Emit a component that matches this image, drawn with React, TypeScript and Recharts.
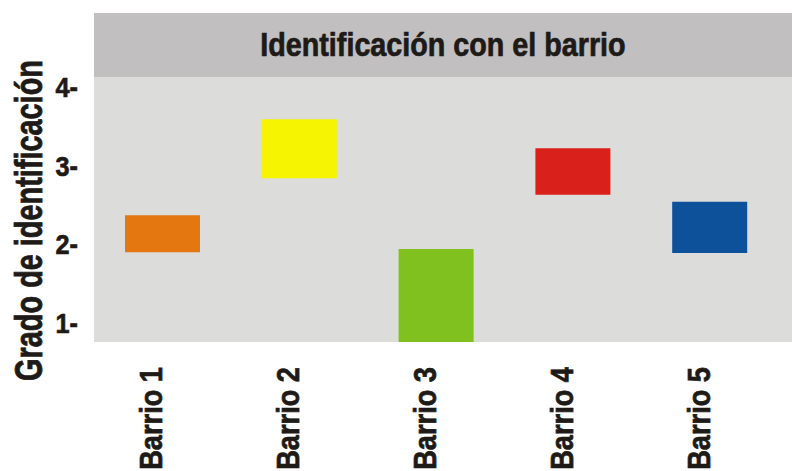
import React from "react";
import { Bar, BarChart, CartesianGrid, Cell, XAxis, YAxis } from "recharts";

// Identification with the neighbourhood: floating range per barrio.
const barrios = ["Barrio 1", "Barrio 2", "Barrio 3", "Barrio 4", "Barrio 5"];
const lowValues = [1.9, 2.84, 0.7, 2.63, 1.89];
const highValues = [2.37, 3.59, 1.94, 3.22, 2.54];
const barColors = ["#e57710", "#f7f400", "#80c120", "#d9201b", "#0c519a"];
const yTicks = [1, 2, 3, 4];

const title = "Identificación con el barrio";
const yTitle = "Grado de identificación";

const FONT = "'Liberation Sans', Arial, sans-serif";
const INK = "#1d1a17";

const data = barrios.map((name, i) => ({
  name,
  range: [lowValues[i], highValues[i]],
}));

// condensed heavy look: squeeze along the text direction, thin stroke to thicken
function XTick({ x, y, payload }: any) {
  return (
    <text
      transform={`translate(${x}, ${y + 17}) rotate(-90) scale(0.85, 1)`}
      textAnchor="end"
      fontFamily={FONT}
      fontWeight={700}
      fontSize={32}
      fill={INK}
      stroke={INK}
      strokeWidth={0.7}
    >
      {payload.value}
    </text>
  );
}

function YTick({ x, y, payload }: any) {
  return (
    <text
      transform={`translate(${x}, ${y + 10}) scale(0.9, 1)`}
      textAnchor="end"
      fontFamily={FONT}
      fontWeight={700}
      fontSize={28}
      fill={INK}
      stroke={INK}
      strokeWidth={0.7}
    >
      {`${payload.value}-`}
    </text>
  );
}

function YTitle({ viewBox }: any) {
  const cx = viewBox.x + 42;
  const cy = viewBox.y + viewBox.height / 2 + 11;
  return (
    <text
      transform={`translate(${cx}, ${cy}) rotate(-90) scale(0.76, 1)`}
      textAnchor="middle"
      fontFamily={FONT}
      fontWeight={700}
      fontSize={38}
      fill={INK}
      stroke={INK}
      strokeWidth={0.8}
    >
      {yTitle}
    </text>
  );
}

export default function App() {
  return (
    <div style={{ position: "absolute", left: 0, top: 0, width: 792, height: 471, background: "#fff" }}>
      <div
        style={{
          position: "absolute",
          left: 94,
          top: 13,
          width: 698,
          height: 64,
          background: "#c1bfc0",
          color: INK,
          fontFamily: FONT,
          fontWeight: 700,
          fontSize: 33,
          lineHeight: "64px",
          textAlign: "center",
          WebkitTextStroke: `0.7px ${INK}`,
        }}
      >
        <span style={{ display: "inline-block", transform: "scaleX(0.87)" }}>{title}</span>
      </div>
      <BarChart width={792} height={471} data={data} margin={{ top: 77, right: 0, bottom: 0, left: 0 }}>
        <CartesianGrid fill="#dcdcdb" horizontal={false} vertical={false} />
        <XAxis
          dataKey="name"
          height={129}
          axisLine={false}
          tickLine={false}
          padding={{ left: 0, right: 14 }}
          interval={0}
          tick={<XTick />}
        />
        <YAxis
          width={94}
          type="number"
          domain={[0.758, 4.127]}
          ticks={yTicks}
          allowDataOverflow
          axisLine={false}
          tickLine={false}
          tickSize={16}
          tickMargin={0}
          tick={<YTick />}
          label={<YTitle />}
        />
        <Bar dataKey="range" barSize={75} isAnimationActive={false}>
          {data.map((d, i) => (
            <Cell key={d.name} fill={barColors[i]} />
          ))}
        </Bar>
      </BarChart>
    </div>
  );
}
